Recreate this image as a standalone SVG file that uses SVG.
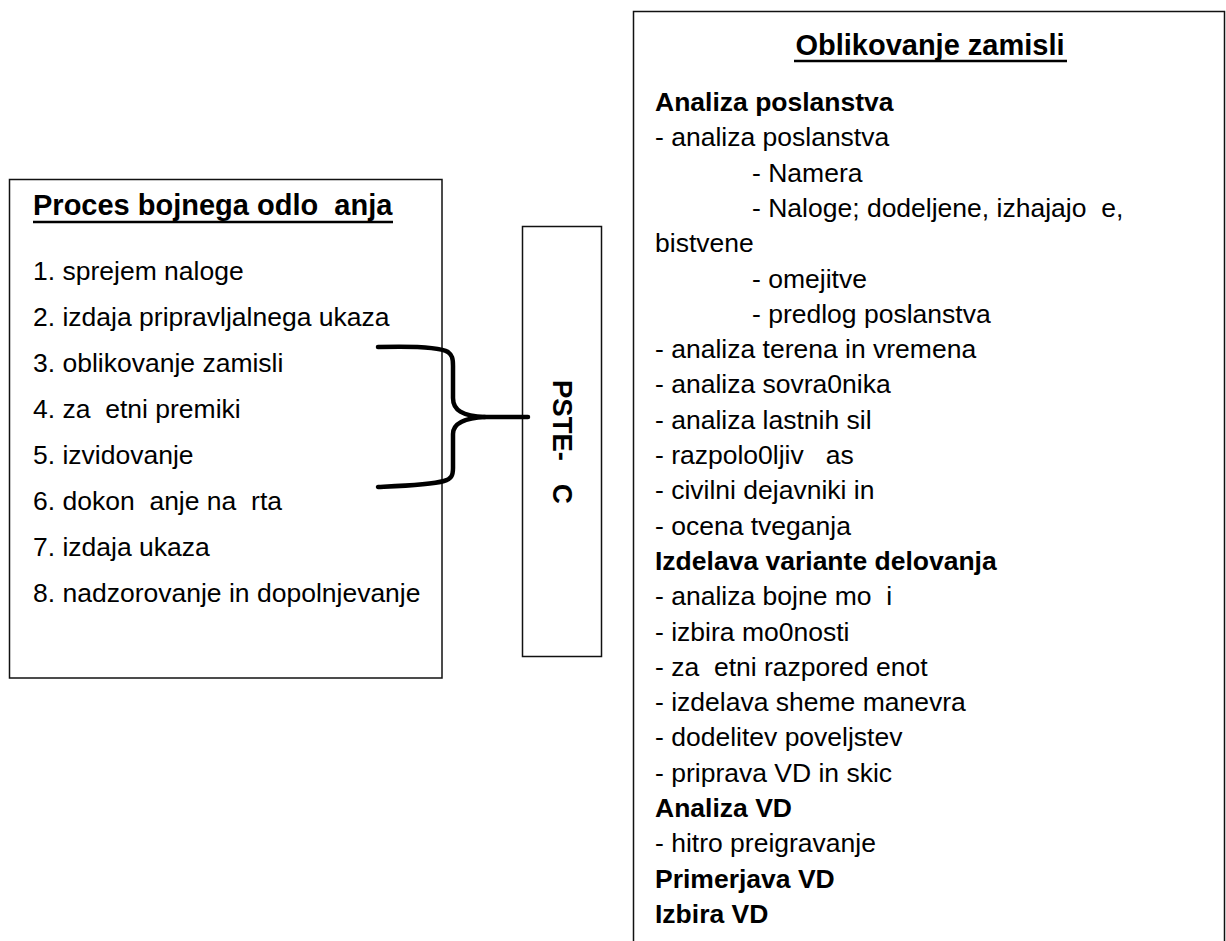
<svg xmlns="http://www.w3.org/2000/svg" width="1226" height="941" viewBox="0 0 1226 941" xml:space="preserve">
  <style>
    text { font-family: "Liberation Sans", Arial, sans-serif; fill: #000; white-space: pre; }
    .body { font-size: 26.5px; }
    .b { font-weight: bold; }
    .ttl { font-weight: bold; }
    .box { fill: #fff; stroke: #111; stroke-width: 1.5; }
    .ul { stroke: #000; stroke-width: 2.5; }
    .brace { fill: none; stroke: #000; stroke-width: 4.5; stroke-linecap: round; stroke-linejoin: round; }
  </style>
  <rect width="1226" height="941" fill="#fff"/>

  <g id="node-proces">
    <rect class="box" x="9.5" y="179.5" width="432.5" height="498.5"/>
    <text class="ttl" x="33" y="215" font-size="29">Proces bojnega odlo  anja</text>
    <line class="ul" x1="33" y1="222" x2="393" y2="222"/>
    <text class="body" x="33" y="280">1. sprejem naloge</text>
    <text class="body" x="33" y="326">2. izdaja pripravljalnega ukaza</text>
    <text class="body" x="33" y="372">3. oblikovanje zamisli</text>
    <text class="body" x="33" y="418">4. za  etni premiki</text>
    <text class="body" x="33" y="464">5. izvidovanje</text>
    <text class="body" x="33" y="510">6. dokon  anje na  rta</text>
    <text class="body" x="33" y="556">7. izdaja ukaza</text>
    <text class="body" x="33" y="602">8. nadzorovanje in dopolnjevanje</text>
  </g>

  <g id="node-pste">
    <rect class="box" x="522.5" y="226.5" width="79" height="430"/>
    <text class="b" font-size="27.5" transform="translate(553,380) rotate(90)">PSTE-   C</text>
  </g>

  <g id="node-oblikovanje">
    <rect class="box" x="633.5" y="11.5" width="591" height="940"/>
    <text class="ttl" x="930" y="55" font-size="29" text-anchor="middle">Oblikovanje zamisli</text>
    <line class="ul" x1="794" y1="61" x2="1067" y2="61"/>
    <text class="body b" x="655" y="111">Analiza poslanstva</text>
    <text class="body" x="655" y="146.3">- analiza poslanstva</text>
    <text class="body" x="752" y="181.6">- Namera</text>
    <text class="body" x="752" y="216.9">- Naloge; dodeljene, izhajajo  e,</text>
    <text class="body" x="655" y="252.2">bistvene</text>
    <text class="body" x="752" y="287.5">- omejitve</text>
    <text class="body" x="752" y="322.8">- predlog poslanstva</text>
    <text class="body" x="655" y="358.1">- analiza terena in vremena</text>
    <text class="body" x="655" y="393.4">- analiza sovra0nika</text>
    <text class="body" x="655" y="428.7">- analiza lastnih sil</text>
    <text class="body" x="655" y="464">- razpolo0ljiv   as</text>
    <text class="body" x="655" y="499.3">- civilni dejavniki in</text>
    <text class="body" x="655" y="534.6">- ocena tveganja</text>
    <text class="body b" x="655" y="569.9">Izdelava variante delovanja</text>
    <text class="body" x="655" y="605.2">- analiza bojne mo  i</text>
    <text class="body" x="655" y="640.5">- izbira mo0nosti</text>
    <text class="body" x="655" y="675.8">- za  etni razpored enot</text>
    <text class="body" x="655" y="711.1">- izdelava sheme manevra</text>
    <text class="body" x="655" y="746.4">- dodelitev poveljstev</text>
    <text class="body" x="655" y="781.7">- priprava VD in skic</text>
    <text class="body b" x="655" y="817">Analiza VD</text>
    <text class="body" x="655" y="852.3">- hitro preigravanje</text>
    <text class="body b" x="655" y="887.6">Primerjava VD</text>
    <text class="body b" x="655" y="922.9">Izbira VD</text>
  </g>

  <g id="connectors">
    <path class="brace" d="M378,347 C415,346 440,347 448,352 C452,355 453,358 453,366 L453,398 C453,410 462,416 485,417 L528,417"/>
    <path class="brace" d="M485,417 C464,418 453,424 453,434 L453,468 C453,476 451,479 444,481 C430,485 400,486 378,487"/>
  </g>
</svg>
